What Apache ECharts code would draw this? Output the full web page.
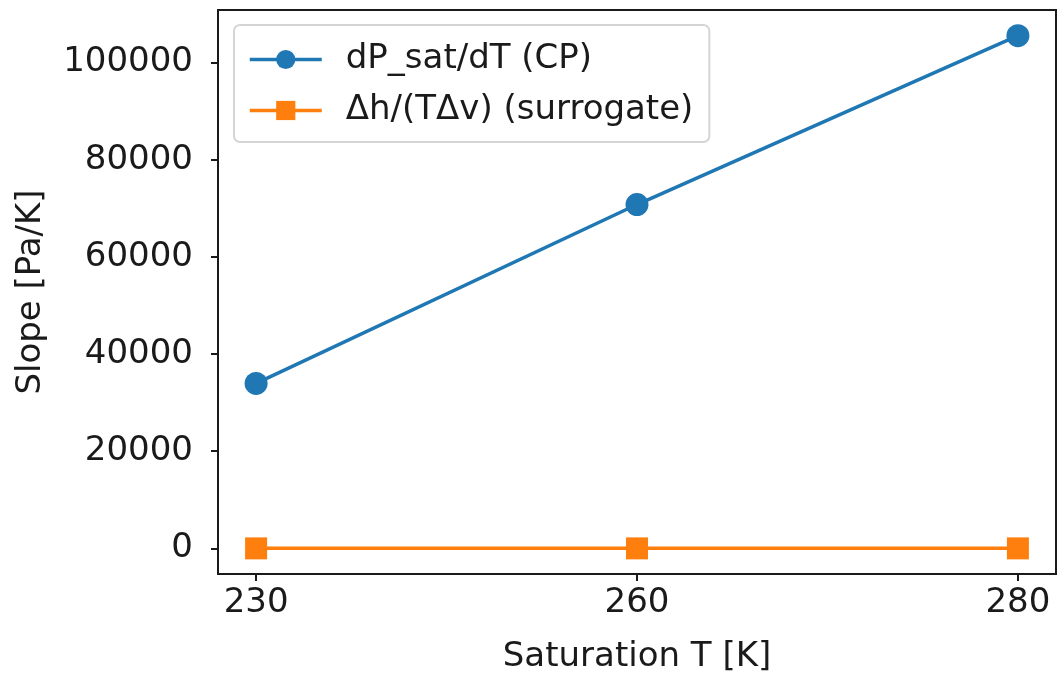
<!DOCTYPE html>
<html>
<head>
<meta charset="utf-8">
<script src="https://cdn.jsdelivr.net/npm/echarts@6/dist/echarts.min.js"></script>
<style>
  html, body { margin: 0; padding: 0; background: #fff; }
  #main { width: 1057px; height: 680px; }
</style>
</head>
<body>
<div id="main"></div>
<script>
// data
var categories = ['230', '260', '280'];
var slopeCP = [33950, 70780, 105550];
var slopeSurrogate = [0, 0, 0];
var yTicks = [0, 20000, 40000, 60000, 80000, 100000];

var font = 'DejaVu Sans';
var fs = 34;

function toPoints(vals) {
    return vals.map(function (v, i) { return [i, v]; });
}

var chart = echarts.init(document.getElementById('main'));

var option = {
    animation: false,
    backgroundColor: '#fff',
    textStyle: { fontFamily: font },
    grid: { left: 218, right: 1, top: 10, bottom: 106 },
    legend: {
        left: 234,
        top: 25,
        orient: 'vertical',
        itemWidth: 72,
        itemHeight: 24,
        itemGap: 16,
        padding: [17, 16, 14, 14],
        borderColor: '#d5d5d5',
        borderWidth: 2,
        borderRadius: 6,
        backgroundColor: 'rgba(255,255,255,0.8)',
        lineStyle: { width: 3.5 },
        textStyle: { fontFamily: font, fontSize: fs, lineHeight: 35, color: '#1a1a1a', padding: [0, 0, 0, 19] },
        data: ['dP_sat/dT (CP)', 'Δh/(TΔv) (surrogate)']
    },
    xAxis: {
        type: 'value',
        min: -0.1,
        max: 2.1,
        name: 'Saturation T [K]',
        nameLocation: 'middle',
        nameGap: 66,
        nameTextStyle: { fontFamily: font, fontSize: fs, color: '#1a1a1a' },
        splitLine: { show: false },
        axisLine: { onZero: false, lineStyle: { color: '#1a1a1a', width: 2 } },
        axisTick: { customValues: [0, 1, 2], length: 7, lineStyle: { color: '#1a1a1a', width: 2 } },
        axisLabel: {
            customValues: [0, 1, 2],
            margin: 12,
            fontFamily: font, fontSize: fs, color: '#1a1a1a',
            formatter: function (v) { return categories[Math.round(v)]; }
        }
    },
    yAxis: {
        type: 'value',
        min: -5275,
        max: 110825,
        name: 'Slope [Pa/K]',
        nameLocation: 'middle',
        nameGap: 170,
        nameTextStyle: { fontFamily: font, fontSize: fs, color: '#1a1a1a' },
        splitLine: { show: false },
        axisLine: { show: true, onZero: false, lineStyle: { color: '#1a1a1a', width: 2 } },
        axisTick: { show: true, customValues: yTicks, length: 7, lineStyle: { color: '#1a1a1a', width: 2 } },
        axisLabel: {
            customValues: yTicks,
            margin: 25,
            fontFamily: font, fontSize: fs, color: '#1a1a1a',
            formatter: function (v) { return String(v); }
        }
    },
    series: [
        {
            name: 'dP_sat/dT (CP)',
            type: 'line',
            data: toPoints(slopeCP),
            symbol: 'circle',
            symbolSize: 23,
            lineStyle: { color: '#1f77b4', width: 3.5 },
            itemStyle: { color: '#1f77b4' }
        },
        {
            name: 'Δh/(TΔv) (surrogate)',
            type: 'line',
            data: toPoints(slopeSurrogate),
            symbol: 'rect',
            symbolSize: 22,
            lineStyle: { color: '#ff7f0e', width: 3.5 },
            itemStyle: { color: '#ff7f0e' }
        }
    ]
};

// top and right spines
option.graphic = [{
    type: 'rect',
    shape: { x: 218, y: 10, width: 838, height: 564 },
    style: { fill: 'none', stroke: '#1a1a1a', lineWidth: 2 },
    silent: true,
    z: 0
}];

chart.setOption(option);
</script>
</body>
</html>
